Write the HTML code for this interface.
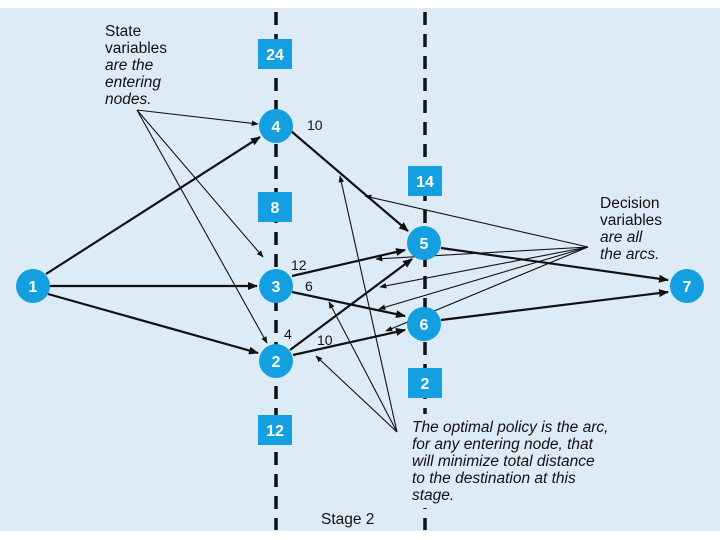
<!DOCTYPE html>
<html><head><meta charset="utf-8"><style>
html,body{margin:0;padding:0;background:#fff;}
svg{display:block;}
text{font-family:"Liberation Sans",sans-serif;}
</style></head><body>
<svg width="720" height="540" viewBox="0 0 720 540" xmlns="http://www.w3.org/2000/svg">
<defs>
<marker id="a" viewBox="0 0 10 10" refX="9" refY="5" markerWidth="7" markerHeight="7" orient="auto-start-reverse" markerUnits="userSpaceOnUse"><path d="M0,1 L10,5 L0,9 z" fill="#111"/></marker>
<marker id="b" viewBox="0 0 10 10" refX="9" refY="5" markerWidth="10" markerHeight="10" orient="auto" markerUnits="userSpaceOnUse"><path d="M0,1 L10,5 L0,9 z" fill="#111"/></marker>
</defs>
<rect x="0" y="8" width="720" height="523" fill="#ddebf7"/>
<line x1="276" y1="12" x2="276" y2="530" stroke="#111" stroke-width="3.5" stroke-dasharray="13,9"/>
<line x1="425" y1="12" x2="425" y2="530" stroke="#111" stroke-width="3.5" stroke-dasharray="13,9"/>
<rect x="409" y="414" width="225" height="94" fill="#ddebf7"/>
<g stroke="#111" stroke-width="2.2" fill="none" marker-end="url(#b)">
<line x1="46" y1="274" x2="260" y2="137"/>
<line x1="50" y1="286" x2="257" y2="286"/>
<line x1="48" y1="294" x2="258" y2="353"/>
<line x1="291" y1="131" x2="408" y2="231"/>
<line x1="292" y1="276" x2="405" y2="250"/>
<line x1="292" y1="292" x2="405" y2="316"/>
<line x1="290" y1="350" x2="412" y2="259"/>
<line x1="293" y1="355" x2="405" y2="330"/>
<line x1="441" y1="248" x2="668" y2="280"/>
<line x1="441" y1="320" x2="668" y2="292"/>
</g>
<g stroke="#111" stroke-width="1.1" fill="none" marker-end="url(#a)">
<line x1="137" y1="110" x2="258" y2="124"/>
<line x1="137" y1="110" x2="263" y2="257"/>
<line x1="137" y1="110" x2="267" y2="343"/>
<line x1="397" y1="432" x2="340" y2="176"/>
<line x1="397" y1="432" x2="329" y2="302"/>
<line x1="397" y1="432" x2="316" y2="356"/>
<line x1="588" y1="247" x2="365" y2="196"/>
<line x1="588" y1="247" x2="376" y2="259"/>
<line x1="588" y1="247" x2="380" y2="287"/>
<line x1="588" y1="247" x2="379" y2="309"/>
<line x1="588" y1="247" x2="386" y2="331"/>
</g>
<g fill="#14a0e0">
<rect x="258" y="39" width="34" height="30"/>
<rect x="258" y="192" width="34" height="30"/>
<rect x="408" y="166" width="34" height="30"/>
<rect x="408" y="368" width="34" height="30"/>
<rect x="258" y="415" width="34" height="30"/>
</g>
<g fill="#fff" font-size="16" font-weight="bold" text-anchor="middle">
<text x="275" y="60">24</text>
<text x="275" y="213">8</text>
<text x="425" y="187">14</text>
<text x="425" y="389">2</text>
<text x="275" y="436">12</text>
</g>
<g fill="#14a0e0">
<circle cx="33" cy="286" r="17"/>
<circle cx="276" cy="126" r="17"/>
<circle cx="276" cy="286" r="17"/>
<circle cx="276" cy="361" r="17"/>
<circle cx="424" cy="243" r="17"/>
<circle cx="424" cy="324" r="17"/>
<circle cx="687" cy="286" r="17"/>
</g>
<g fill="#fff" font-size="16" font-weight="bold" text-anchor="middle">
<text x="33" y="292">1</text>
<text x="276" y="132">4</text>
<text x="276" y="292">3</text>
<text x="276" y="367">2</text>
<text x="424" y="249">5</text>
<text x="424" y="330">6</text>
<text x="687" y="292">7</text>
</g>
<g fill="#111" font-size="14">
<text x="307" y="130">10</text>
<text x="291" y="270">12</text>
<text x="305" y="291">6</text>
<text x="284" y="339">4</text>
<text x="317" y="345">10</text>
</g>
<g fill="#111" font-size="15.5">
<text x="105" y="36">State</text>
<text x="105" y="53">variables</text>
<text x="105" y="70" font-style="italic">are the</text>
<text x="105" y="87" font-style="italic">entering</text>
<text x="105" y="104" font-style="italic">nodes.</text>
<text x="600" y="208">Decision</text>
<text x="600" y="225">variables</text>
<text x="600" y="242" font-style="italic">are all</text>
<text x="600" y="259" font-style="italic">the arcs.</text>
<text x="412" y="432" font-style="italic">The optimal policy is the arc,</text>
<text x="412" y="449" font-style="italic">for any entering node, that</text>
<text x="412" y="466" font-style="italic">will minimize total distance</text>
<text x="412" y="483" font-style="italic">to the destination at this</text>
<text x="412" y="500" font-style="italic">stage.</text>
<text x="321" y="524">Stage 2</text>
</g>
</svg>
</body></html>
